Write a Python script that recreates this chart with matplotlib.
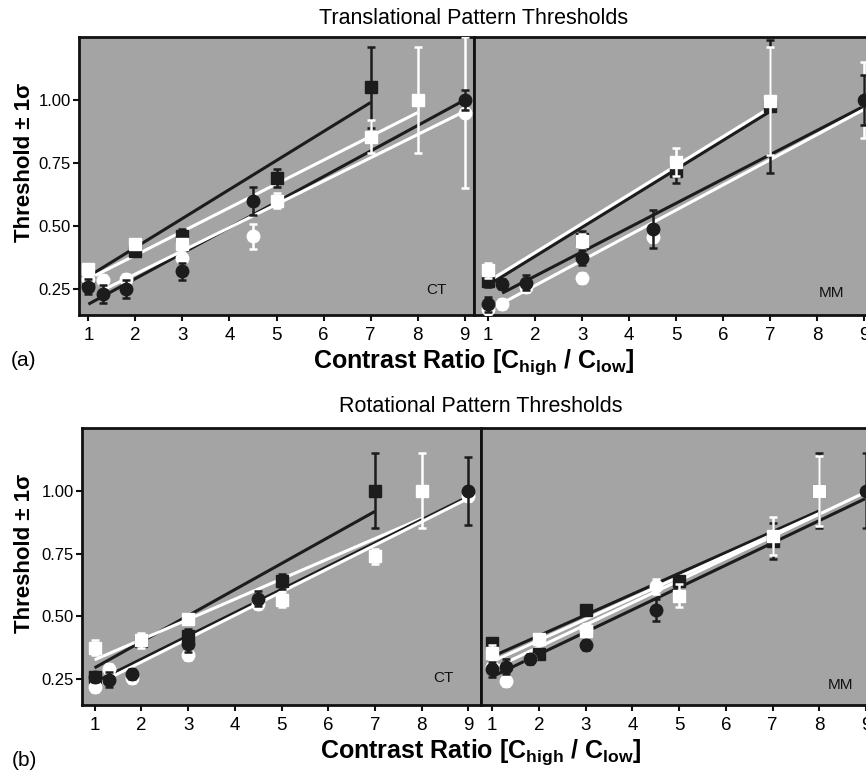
import numpy as np
import matplotlib
matplotlib.use("Agg")
import matplotlib.pyplot as plt

plt.rcParams['font.family'] = ['Liberation Sans', 'DejaVu Sans']
plt.rcParams['mathtext.fontset'] = 'custom'
plt.rcParams['mathtext.rm'] = 'Liberation Sans'
plt.rcParams['mathtext.bf'] = 'Liberation Sans:bold'

# ---------------- data ----------------
x_circ = [1, 1.3, 1.8, 3, 4.5, 9]
x_sq = [1, 2, 3, 5, 7, 8]
x_ticks = [1, 2, 3, 4, 5, 6, 7, 8, 9]
y_ticks = [0.25, 0.50, 0.75, 1.00]
y_ticklabels = ["0.25", "0.50", "0.75", "1.00"]
nan = np.nan

# Translational, CT
t_ct_bsq = [0.28, 0.40, 0.46, 0.69, 1.05, nan]
t_ct_bsq_err = [0.02, 0.02, 0.03, 0.035, 0.16, nan]
t_ct_wsq = [0.33, 0.43, 0.43, 0.60, 0.855, 1.00]
t_ct_wsq_err = [0.02, 0.02, 0.02, 0.03, 0.065, 0.21]
t_ct_bci = [0.26, 0.23, 0.25, 0.32, 0.60, 1.00]
t_ct_bci_err = [0.03, 0.035, 0.035, 0.035, 0.055, 0.04]
t_ct_wci = [0.29, 0.285, 0.29, 0.375, 0.46, 0.95]
t_ct_wci_err = [0.02, 0.02, 0.02, 0.02, 0.05, 0.30]
t_ct_fit_bsq = ([1, 7], [0.30, 0.99])
t_ct_fit_wsq = ([1, 8], [0.29, 0.95])
t_ct_fit_bci = ([1, 9], [0.19, 1.00])
t_ct_fit_wci = ([1.3, 9], [0.245, 0.955])

# Translational, MM
t_mm_bsq = [0.28, nan, 0.45, 0.72, 0.975, nan]
t_mm_bsq_err = [0.02, nan, 0.03, 0.05, 0.265, nan]
t_mm_wsq = [0.325, nan, 0.44, 0.755, 0.995, nan]
t_mm_wsq_err = [0.03, nan, 0.03, 0.055, 0.215, nan]
t_mm_bci = [0.19, 0.27, 0.275, 0.375, 0.487, 1.00]
t_mm_bci_err = [0.03, 0.02, 0.03, 0.03, 0.075, 0.10]
t_mm_wci = [0.17, 0.19, 0.26, 0.295, 0.455, 1.00]
t_mm_wci_err = [0.02, 0.02, 0.02, 0.02, 0.02, 0.15]
t_mm_fit_bsq = ([1, 7], [0.265, 0.955])
t_mm_fit_wsq = ([1, 7], [0.28, 0.97])
t_mm_fit_bci = ([1.3, 9], [0.234, 0.976])
t_mm_fit_wci = ([1.3, 9], [0.194, 0.963])

# Rotational, CT
r_ct_bsq = [0.26, 0.40, 0.42, 0.64, 1.00, nan]
r_ct_bsq_err = [0.02, 0.02, 0.03, 0.03, 0.15, nan]
r_ct_wsq = [0.375, 0.405, 0.488, 0.567, 0.74, 1.00]
r_ct_wsq_err = [0.03, 0.03, 0.02, 0.03, 0.03, 0.15]
r_ct_bci = [0.257, 0.247, 0.27, 0.39, 0.57, 1.00]
r_ct_bci_err = [0.02, 0.03, 0.02, 0.03, 0.03, 0.135]
r_ct_wci = [0.22, 0.29, 0.255, 0.345, 0.55, 0.98]
r_ct_wci_err = [0.02, 0.02, 0.02, 0.02, 0.02, 0.02]
r_ct_fit_bsq = ([1, 7], [0.295, 0.918])
r_ct_fit_wsq = ([1, 8], [0.327, 0.89])
r_ct_fit_bci = ([1, 9], [0.237, 0.977])
r_ct_fit_wci = ([1, 9], [0.225, 0.97])

# Rotational, MM
r_mm_bsq = [0.395, 0.35, 0.525, 0.64, 0.80, 1.00]
r_mm_bsq_err = [0.02, 0.02, 0.02, 0.02, 0.07, 0.15]
r_mm_wsq = [0.356, 0.41, 0.44, 0.583, 0.82, 1.00]
r_mm_wsq_err = [0.03, 0.02, 0.02, 0.045, 0.075, 0.14]
r_mm_bci = [0.29, 0.30, 0.33, 0.385, 0.525, 1.00]
r_mm_bci_err = [0.03, 0.03, 0.02, 0.02, 0.045, 0.15]
r_mm_wci = [0.30, 0.243, 0.33, 0.45, 0.62, 1.00]
r_mm_wci_err = [0.02, 0.02, 0.02, 0.02, 0.03, 0.15]
r_mm_fit_bsq = ([1, 8], [0.34, 0.92])
r_mm_fit_wsq = ([1, 8], [0.32, 0.91])
r_mm_fit_bci = ([1, 9], [0.26, 0.97])
r_mm_fit_wci = ([1, 9], [0.29, 0.995])

titles = ["Translational Pattern Thresholds", "Rotational Pattern Thresholds"]
panel_tags = ["(a)", "(b)"]
subject_labels = ["CT", "MM"]

# ---------------- style ----------------
BLACK = "#1c1c1c"
WHITE = "#ffffff"
BG = "#a4a4a4"

W, H = 866, 772
fig = plt.figure(figsize=(W / 100, H / 100), dpi=100)


def px_axes(x0, y0, x1, y1):
    return fig.add_axes([x0 / W, 1 - y1 / H, (x1 - x0) / W, (y1 - y0) / H])


panels = [
    dict(rect=(79, 37, 474, 315), xlim=(0.8, 9.2), left=True, subj=0,
         d=(t_ct_bsq, t_ct_bsq_err, t_ct_wsq, t_ct_wsq_err, t_ct_bci, t_ct_bci_err, t_ct_wci, t_ct_wci_err),
         f=(t_ct_fit_bsq, t_ct_fit_wsq, t_ct_fit_bci, t_ct_fit_wci), txt=(0.905, 0.09)),
    dict(rect=(474, 37, 876, 315), xlim=(0.7, 9.25), left=False, subj=1,
         d=(t_mm_bsq, t_mm_bsq_err, t_mm_wsq, t_mm_wsq_err, t_mm_bci, t_mm_bci_err, t_mm_wci, t_mm_wci_err),
         f=(t_mm_fit_bsq, t_mm_fit_wsq, t_mm_fit_bci, t_mm_fit_wci), txt=(0.89, 0.08)),
    dict(rect=(82, 428, 481, 705), xlim=(0.73, 9.27), left=True, subj=0,
         d=(r_ct_bsq, r_ct_bsq_err, r_ct_wsq, r_ct_wsq_err, r_ct_bci, r_ct_bci_err, r_ct_wci, r_ct_wci_err),
         f=(r_ct_fit_bsq, r_ct_fit_wsq, r_ct_fit_bci, r_ct_fit_wci), txt=(0.905, 0.097)),
    dict(rect=(481, 428, 880, 705), xlim=(0.76, 9.3), left=False, subj=1,
         d=(r_mm_bsq, r_mm_bsq_err, r_mm_wsq, r_mm_wsq_err, r_mm_bci, r_mm_bci_err, r_mm_wci, r_mm_wci_err),
         f=(r_mm_fit_bsq, r_mm_fit_wsq, r_mm_fit_bci, r_mm_fit_wci), txt=(0.90, 0.072)),
]

for p in panels:
    ax = px_axes(*p['rect'])
    ax.set_facecolor(BG)
    ax.set_xlim(*p['xlim'])
    ax.set_ylim(0.147, 1.25)
    for s in ax.spines.values():
        s.set_linewidth(2.0)
        s.set_color("#111111")
    fb, fw, fbc, fwc = p['f']
    # fit lines
    ax.plot(fb[0], fb[1], color=BLACK, lw=2.2, zorder=2, solid_capstyle='butt')
    ax.plot(fw[0], fw[1], color=WHITE, lw=2.2, zorder=2, solid_capstyle='butt')
    ax.plot(fbc[0], fbc[1], color=BLACK, lw=2.2, zorder=2, solid_capstyle='butt')
    ax.plot(fwc[0], fwc[1], color=WHITE, lw=2.2, zorder=2, solid_capstyle='butt')
    bsq, bsqe, wsq, wsqe, bci, bcie, wci, wcie = p['d']
    common = dict(linestyle='none', elinewidth=1.8, capsize=3.2, capthick=1.8)
    ax.errorbar(x_sq, bsq, yerr=bsqe, marker='s', ms=8, color=BLACK, zorder=3, **common)
    ax.errorbar(x_sq, wsq, yerr=wsqe, marker='s', ms=8, color=WHITE, zorder=4, **common)
    ax.errorbar(x_circ, wci, yerr=wcie, marker='o', ms=9, color=WHITE, zorder=5, **common)
    ax.errorbar(x_circ, bci, yerr=bcie, marker='o', ms=9, color=BLACK, zorder=6, **common)

    ax.set_xticks(x_ticks)
    ax.set_xticklabels([str(t) for t in x_ticks], fontsize=13.5)
    ax.tick_params(axis='x', direction='out', length=4, width=1.5, pad=5, color="#111111")
    if p['left']:
        ax.set_yticks(y_ticks)
        ax.set_yticklabels(y_ticklabels, fontsize=12)
        ax.tick_params(axis='y', direction='out', length=4, width=1.5, pad=2, color="#111111")
    else:
        ax.set_yticks([])
    ax.text(p['txt'][0], p['txt'][1], subject_labels[p['subj']], transform=ax.transAxes,
            ha='center', va='center', fontsize=11, color="#111111")

xlabel = r'Contrast Ratio [C$_{\mathbf{high}}$ / C$_{\mathbf{low}}$]'
for i, (ty, ly, yl, tagy) in enumerate([(18, 362, 162, 361), (407, 752, 553, 760)]):
    cx = (474 if i == 0 else 481) / W
    fig.text(cx, 1 - ty / H, titles[i], ha='center', va='center', fontsize=15.5)
    fig.text(cx, 1 - ly / H, xlabel, ha='center', va='center', fontsize=18, fontweight='bold')
    fig.text(25 / W, 1 - yl / H, "Threshold ± 1σ", ha='center', va='center', rotation=90,
             fontsize=16, fontweight='bold')
    fig.text(24 / W, 1 - tagy / H, panel_tags[i], ha='center', va='center', fontsize=15)

fig.savefig("out.png", dpi=100, facecolor='white')
